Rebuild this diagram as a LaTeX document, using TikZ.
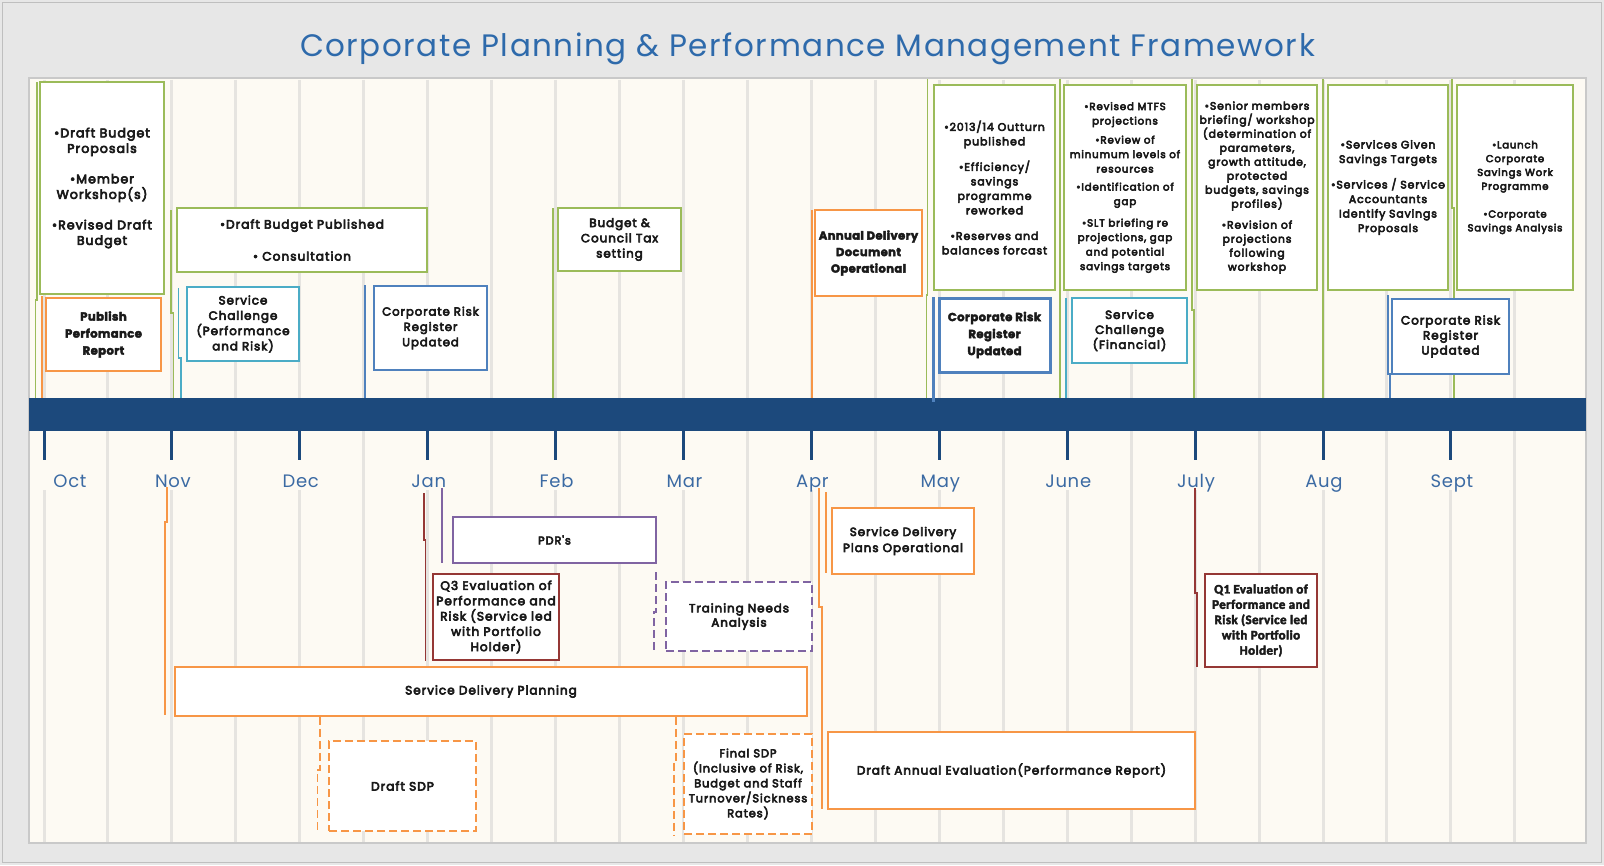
\documentclass[tikz,border=0pt]{standalone}
\usepackage{fontspec}
\setmainfont{Poppins}
\newfontfamily\rf{Poppins}[LetterSpace=8, BoldFont={Poppins}, BoldFeatures={FakeBold=5}]
\newfontfamily\bfam{Poppins}[LetterSpace=3, BoldFeatures={FakeBold=3}]
\newfontfamily\carl{Carlito}[LetterSpace=3, BoldFeatures={FakeBold=3}]
\newfontfamily\titlef{Poppins}[LetterSpace=5]
\newfontfamily\monthf{Poppins}[LetterSpace=4]
\usetikzlibrary{calc}
\definecolor{outerbg}{HTML}{E7E7E7}
\definecolor{outerline}{HTML}{BFBFBF}
\definecolor{panelbg}{HTML}{FDFAF3}
\definecolor{panelline}{HTML}{C9C9C9}
\definecolor{gridc}{HTML}{E6E4E0}
\definecolor{barc}{HTML}{1C497C}
\definecolor{titlec}{HTML}{2E6AAB}
\definecolor{monthc}{HTML}{3B6AA3}
\definecolor{cgreen}{HTML}{9BBB59}
\definecolor{corange}{HTML}{F79646}
\definecolor{ccyan}{HTML}{4BACC6}
\definecolor{cblue}{HTML}{4F81BD}
\definecolor{cpurple}{HTML}{8064A2}
\definecolor{cred}{HTML}{953735}
\definecolor{txtc}{HTML}{1A1A1A}
\tikzset{
  box/.style={draw, fill=white, line width=1.6pt, align=center, inner sep=1pt, text=txtc, font=\rf\bfseries\fontsize{12}{15}\selectfont},
  fs/.style 2 args={font=\rf\bfseries\fontsize{#1}{#2}\selectfont},
  bfs/.style 2 args={font=\bfam\bfseries\fontsize{#1}{#2}\selectfont},
  sz/.style 2 args={minimum width=#1, minimum height=#2},
  gbox/.style={box, draw=cgreen},
  obox/.style={box, draw=corange},
  cbox/.style={box, draw=ccyan},
  bbox/.style={box, draw=cblue},
  pbox/.style={box, draw=cpurple},
  rbox/.style={box, draw=cred},
  dashbox/.style={dash pattern=on 8pt off 4pt},
  con/.style={line width=1.5pt},
  gcon/.style={con, draw=cgreen},
  ocon/.style={con, draw=corange},
  ccon/.style={con, draw=ccyan},
  bcon/.style={con, draw=cblue},
  pcon/.style={con, draw=cpurple},
  rcon/.style={con, draw=cred},
  gridline/.style={draw=gridc, line width=3pt},
  tickline/.style={draw=barc, line width=3pt},
  month/.style={text=monthc, font=\monthf\fontsize{18}{20}\selectfont, inner sep=0pt, anchor=base},
}
\begin{document}
\begin{tikzpicture}[x=1pt,y=-1pt]
\useasboundingbox (0,0) rectangle (1604,865);
% frame
\fill[outerbg] (0,0) rectangle (1604,865);
\draw[outerline, line width=1.5pt] (2.5,2.5) rectangle (1601.5,862.5);
\node[text=titlec, font=\titlef\fontsize{31}{34}\selectfont, inner sep=0pt, anchor=base] (title) at (807.5,56) {Corporate Planning \& Performance Management Framework};
\draw[panelline, line width=2.5pt, fill=panelbg] (29,78) rectangle (1586,843);
% grid
\foreach \k in {0,...,23} {
  \pgfmathsetmacro{\gx}{44+63.95*\k}
  \draw[gridline] (\gx,79.5) -- (\gx,398);
  \ifodd\k
    \draw[gridline] (\gx,431) -- (\gx,841.5);
  \else
    \draw[gridline] (\gx,490) -- (\gx,841.5);
  \fi
}
% bar
\node[fill=barc, minimum width=1557pt, minimum height=33pt, inner sep=0pt] (bar) at (807.5,414.5) {};
\foreach \i/\m in {0/Oct,1/Nov,2/Dec,3/Jan,4/Feb,5/Mar,6/Apr,7/May,8/June,9/July,10/Aug,11/Sept} {
  \pgfmathsetmacro{\tx}{44+127.9*\i}
  \draw[tickline] (\tx,431) -- (\tx,460);
  \ifnum\i=0
    \node[month] (m\i) at (70,487) {\m};
  \else
    \node[month] (m\i) at (\tx+1,487) {\m};
  \fi
}
% ---------- upper connectors
\coordinate (t1) at (37,82);     \coordinate (j1) at (35.5,300);
\draw[gcon] (t1) -- (t1 |- j1) -- (j1) -- (j1 |- bar.north);
\coordinate (t2) at (42,296);
\draw[ocon] (t2) -- (t2 |- bar.north);
\coordinate (t3) at (171,210);   \coordinate (j3) at (173.5,313);
\draw[gcon] (t3) -- (t3 |- j3) -- (j3) -- (j3 |- bar.north);
\coordinate (t4) at (178.5,288); \coordinate (j4) at (181,358);
\draw[ccon] (t4) -- (t4 |- j4) -- (j4) -- (j4 |- bar.north);
\coordinate (t5) at (365,285);
\draw[bcon] (t5) -- (t5 |- bar.north);
\coordinate (t6) at (553,208);
\draw[gcon] (t6) -- (t6 |- bar.north);
\coordinate (t7) at (812,210);
\draw[ocon] (t7) -- (t7 |- bar.north);
\coordinate (t8) at (927.5,79);  \coordinate (j8) at (926.5,295);
\draw[gcon] (t8) -- (t8 |- j8) -- (j8) -- (j8 |- bar.north);
\coordinate (t9) at (933,297);
\draw[bcon, line width=3pt] (t9) -- ($(t9 |- bar.north)+(0,4)$);
\coordinate (t10) at (1060,79);
\draw[gcon] (t10) -- (t10 |- bar.north);
\coordinate (t11) at (1066,298);
\draw[ccon] (t11) -- (t11 |- bar.north);
\coordinate (t12) at (1192,79);  \coordinate (j12) at (1194,310);
\draw[gcon] (t12) -- (t12 |- j12) -- (j12) -- (j12 |- bar.north);
\coordinate (t13) at (1323,79);
\draw[gcon] (t13) -- (t13 |- bar.north);
\coordinate (t14) at (1452,79);  \coordinate (j14) at (1454,208);
\draw[gcon] (t14) -- (t14 |- j14) -- (j14) -- (j14 |- bar.north);
\coordinate (t15) at (1388,295); \coordinate (j15) at (1390,374);
\draw[bcon] (t15) -- (t15 |- j15) -- (j15) -- (j15 |- bar.north);
% ---------- lower connectors
\coordinate (t16) at (442,488);  \coordinate (e16) at (442,563);
\draw[pcon] (t16) -- (e16);
\coordinate (t17) at (424,493);  \coordinate (j17) at (425.5,540); \coordinate (e17) at (425.5,661);
\draw[rcon] (t17) -- (t17 |- j17) -- (j17) -- (e17);
\coordinate (t18) at (167,487);  \coordinate (j18) at (165,522); \coordinate (e18) at (165,715);
\draw[ocon] (t18) -- (t18 |- j18) -- (j18) -- (e18);
\coordinate (t22) at (826,492);  \coordinate (e22) at (826,573);
\draw[ocon] (t22) -- (e22);
\coordinate (t23) at (819,488);  \coordinate (j23) at (822,607); \coordinate (e23) at (822,809);
\draw[ocon] (t23) -- (t23 |- j23) -- (j23) -- (e23);
\coordinate (t24) at (1195,488); \coordinate (j24) at (1197,593); \coordinate (e24) at (1197,667);
\draw[rcon] (t24) -- (t24 |- j24) -- (j24) -- (e24);
% ---------- upper boxes
\node[gbox, sz={124}{212}, fs={12.6}{15.5}] (b1) at (102,188) {•Draft Budget\\Proposals\\[15pt]•Member\\Workshop(s)\\[15pt]•Revised Draft\\Budget};
\node[obox, sz={115}{73}, bfs={11.7}{17}] (b2) at (103.5,334.5) {Publish\\Perfomance\\Report};
\node[gbox, sz={250}{64}, fs={12.2}{15}] (b3) at (302,240) {•Draft Budget Published\\[17pt]• Consultation};
\node[cbox, sz={112}{74}, fs={11.9}{15.3}] (b4) at (243,324) {Service\\Challenge\\(Performance\\and Risk)};
\node[bbox, sz={113}{84}, fs={11.7}{15.3}] (b5) at (430.5,328) {Corporate Risk\\Register\\Updated};
\node[gbox, sz={123}{63}, fs={11.9}{15.3}] (b6) at (619.5,239.5) {Budget \&\\Council Tax\\setting};
\node[obox, sz={107}{86}, bfs={11.6}{16.5}] (b7) at (868.5,253) {Annual Delivery\\Document\\Operational};
\node[gbox, sz={121}{205}, fs={11}{14.5}] (b8) at (994.5,187.5) {•2013/14 Outturn\\published\\[11pt]•Efficiency/\\savings\\programme\\reworked\\[11pt]•Reserves and\\balances forcast};
\node[bbox, line width=3pt, sz={111}{74}, bfs={11.7}{17}] (b9) at (994.5,335) {Corporate Risk\\Register\\Updated};
\node[gbox, sz={122}{205}, fs={10.3}{14.5}] (b10) at (1125,187.5) {•Revised MTFS\\projections\\[4.5pt]•Review of\\minumum levels of\\resources\\[3.5pt]•Identification of\\gap\\[7pt]•SLT briefing re\\projections, gap\\and potential\\savings targets};
\node[cbox, sz={115}{65}, fs={11.9}{15}] (b11) at (1129.5,330.5) {Service\\Challenge\\(Financial)};
\node[gbox, sz={120}{205}, fs={10.8}{14}] (b12) at (1257,187.5) {•Senior members\\briefing/ workshop\\(determination of\\parameters,\\growth attitude,\\protected\\budgets, savings\\profiles)\\[7pt]•Revision of\\projections\\following\\workshop};
\node[gbox, sz={120}{205}, fs={10.9}{14.5}] (b13) at (1388,187.5) {•Services Given\\Savings Targets\\[11pt]•Services / Service\\Accountants\\Identify Savings\\Proposals};
\node[gbox, sz={116}{205}, fs={10.1}{13.8}] (b14) at (1515,187.5) {•Launch\\Corporate\\Savings Work\\Programme\\[14pt]•Corporate\\Savings Analysis};
\node[bbox, sz={117}{75}, fs={12}{15}] (b15) at (1450.5,336.5) {Corporate Risk\\Register\\Updated};
% ---------- lower boxes
\node[pbox, sz={203}{46}, fs={11.3}{15}] (b16) at (554.5,540) {PDR's};
\node[rbox, sz={126}{86}, fs={12.2}{15.3}] (b17) at (496,617) {Q3 Evaluation of\\Performance and\\Risk (Service led\\with Portfolio\\Holder)};
\node[obox, sz={632}{49}, fs={12.1}{15}] (b18) at (491,691.5) {Service Delivery Planning};
\node[obox, dashbox, sz={147}{90}, fs={12.2}{15}] (b19) at (402.5,786) {Draft SDP};
\node[pbox, dashbox, sz={146}{69}, fs={11.9}{14.3}] (b20) at (739,616.5) {Training Needs\\Analysis};
\node[obox, dashbox, sz={128}{100}, fs={11.4}{15}] (b21) at (748,784) {Final SDP\\(Inclusive of Risk,\\Budget and Staff\\Turnover/Sickness\\Rates)};
\node[obox, sz={142}{66}, fs={11.9}{16}] (b22) at (903,541) {Service Delivery\\Plans Operational};
\node[obox, sz={367}{77}, fs={12}{15}] (b23) at (1011.5,770.5) {Draft Annual Evaluation(Performance Report)};
\node[rbox, sz={112}{93}, font=\carl\bfseries\fontsize{13}{15.3}\selectfont] (b24) at (1261,620.5) {Q1 Evaluation of\\Performance and\\Risk (Service led\\with Portfolio\\Holder)};
% dashed connectors hanging from boxes
\coordinate (t19) at (320,717);  \coordinate (j19) at (317.5,770); \coordinate (e19) at (317.5,831);
\draw[ocon, dashbox] (t19 |- b18.south) -- (t19 |- j19) -- (j19) -- (e19);
\coordinate (t20) at (656,572);  \coordinate (j20) at (654,612); \coordinate (e20) at (654,652);
\draw[pcon, dashbox] (t20) -- (t20 |- j20) -- (j20) -- (e20);
\coordinate (t21) at (676,720);  \coordinate (j21) at (674,762); \coordinate (e21) at (674,835);
\draw[ocon, dashbox] (t21 |- b18.south) -- (t21 |- j21) -- (j21) -- (e21);
\end{tikzpicture}
\end{document}
